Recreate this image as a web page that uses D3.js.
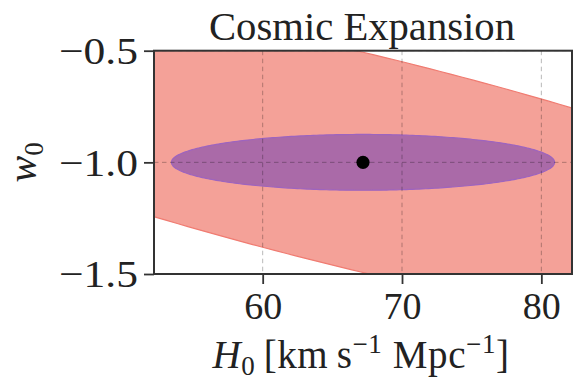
<!DOCTYPE html>
<html>
<head>
<meta charset="utf-8">
<script src="https://cdn.jsdelivr.net/npm/d3@7"></script>
<style>
  html, body { margin: 0; padding: 0; background: #fff; }
  svg { display: block; }
  text { font-family: "Liberation Serif", "DejaVu Serif", serif; fill: #222; }
</style>
</head>
<body>
<svg id="chart" width="577" height="382"></svg>
<script>
// Fiducial cosmology and the two confidence contours in the (H0, w0) plane
const fiducial = [67.2, -1.0];            // [H0, w0]
const contourNames = ["degeneracy band", "combined"];
const halfRangeH0 = [45.6, 13.75];        // half extent of each contour along H0
const halfRangeW0 = [0.837, 0.125];       // half extent along w0
const correlation = [-0.808, 0.0];        // H0–w0 correlation coefficient
const fillColors = ["#f4a198", "#aa6aa8"];
const edgeColors = ["#f07c72", "#9d64bf"];

const xTicks = [60, 70, 80];
const yTicks = [-1.5, -1.0, -0.5];
const xLimits = [52.2, 82.2];
const yLimits = [-1.5, -0.5];

const svg = d3.select("#chart");
const plot = { left: 154, right: 572, top: 50.7, bottom: 274 };

const x = d3.scaleLinear().domain(xLimits).range([plot.left, plot.right]);
const y = d3.scaleLinear().domain(yLimits).range([plot.bottom, plot.top]);

svg.append("defs").append("clipPath").attr("id", "plot-clip")
  .append("rect")
  .attr("x", plot.left).attr("y", plot.top)
  .attr("width", plot.right - plot.left).attr("height", plot.bottom - plot.top);

// Contour outline from half ranges and correlation
function ellipsePoints(i) {
  const n = 360, pts = [];
  const rho = correlation[i], s = Math.sqrt(1 - rho * rho);
  for (let k = 0; k < n; k++) {
    const t = 2 * Math.PI * k / n;
    pts.push([
      fiducial[0] + halfRangeH0[i] * Math.cos(t),
      fiducial[1] + halfRangeW0[i] * (rho * Math.cos(t) + s * Math.sin(t))
    ]);
  }
  return pts;
}

const line = d3.line().x(d => x(d[0])).y(d => y(d[1])).curve(d3.curveLinearClosed);

const contours = svg.append("g").attr("clip-path", "url(#plot-clip)");
contourNames.forEach((name, i) => {
  contours.append("path")
    .datum(ellipsePoints(i))
    .attr("d", line)
    .attr("fill", fillColors[i])
    .attr("stroke", edgeColors[i])
    .attr("stroke-width", 1.2);
});

// Dashed grid drawn over the contours
const grid = svg.append("g").attr("clip-path", "url(#plot-clip)");
grid.selectAll("line.gx").data(xTicks).join("line")
  .attr("x1", d => x(d)).attr("x2", d => x(d))
  .attr("y1", plot.top).attr("y2", plot.bottom)
  .attr("stroke", "#000").attr("stroke-opacity", 0.28)
  .attr("stroke-width", 1).attr("stroke-dasharray", "4.5,3.5");
grid.selectAll("line.gy").data(yTicks).join("line")
  .attr("y1", d => y(d)).attr("y2", d => y(d))
  .attr("x1", plot.left).attr("x2", plot.right)
  .attr("stroke", "#000").attr("stroke-opacity", 0.28)
  .attr("stroke-width", 1).attr("stroke-dasharray", "4.5,3.5");

// Fiducial point
svg.append("circle")
  .attr("cx", x(fiducial[0])).attr("cy", y(fiducial[1]))
  .attr("r", 6.6).attr("fill", "#000");

// Axes
const fmtY = d => (d < 0 ? "\u2212" : "") + Math.abs(d).toFixed(1);
const xAxis = d3.axisBottom(x).tickValues(xTicks).tickSize(10).tickPadding(8).tickFormat(d3.format("d"));
const yAxis = d3.axisLeft(y).tickValues(yTicks).tickSize(10).tickPadding(6).tickFormat(fmtY);

const gx = svg.append("g").attr("transform", `translate(0,${plot.bottom})`).call(xAxis);
const gy = svg.append("g").attr("transform", `translate(${plot.left},0)`).call(yAxis);
[gx, gy].forEach(g => {
  g.select(".domain").remove();
  g.selectAll(".tick line").attr("stroke", "#333").attr("stroke-width", 1.8);
  g.selectAll(".tick text")
    .attr("font-family", "Liberation Serif, DejaVu Serif, serif")
    .attr("font-size", 38).attr("fill", "#222");
});
gx.selectAll(".tick text").attr("dy", "0.72em");
gy.selectAll(".tick text").attr("dy", "0.34em")
  .attr("textLength", 79).attr("lengthAdjust", "spacingAndGlyphs");

// Frame
svg.append("rect")
  .attr("x", plot.left).attr("y", plot.top)
  .attr("width", plot.right - plot.left).attr("height", plot.bottom - plot.top)
  .attr("fill", "none").attr("stroke", "#333").attr("stroke-width", 2);

// Title
svg.append("text")
  .attr("x", (plot.left + plot.right) / 2 - 1).attr("y", 40)
  .attr("text-anchor", "middle").attr("font-size", 39)
  .attr("textLength", 306).attr("lengthAdjust", "spacingAndGlyphs")
  .text("Cosmic Expansion");

// X label: H0 [km s^-1 Mpc^-1]
const xl = svg.append("text")
  .attr("x", 361).attr("y", 368)
  .attr("text-anchor", "middle").attr("font-size", 39)
  .attr("letter-spacing", 0.6);
xl.append("tspan").attr("font-style", "italic").text("H");
xl.append("tspan").attr("font-size", 27).attr("dy", 7).text("0");
xl.append("tspan").attr("dy", -7).text("\u2009[km\u2009s");
xl.append("tspan").attr("font-size", 27).attr("dy", -15).text("\u22121");
xl.append("tspan").attr("dy", 15).text(" Mpc");
xl.append("tspan").attr("font-size", 27).attr("dy", -15).text("\u22121");
xl.append("tspan").attr("dy", 15).text("]");

// Y label: w0
const yl = svg.append("text")
  .attr("transform", `translate(36,${y(-1.0)}) rotate(-90)`)
  .attr("text-anchor", "middle").attr("font-size", 40);
yl.append("tspan").attr("font-style", "italic").text("w");
yl.append("tspan").attr("font-size", 27).attr("dy", 7).text("0");
</script>
</body>
</html>
